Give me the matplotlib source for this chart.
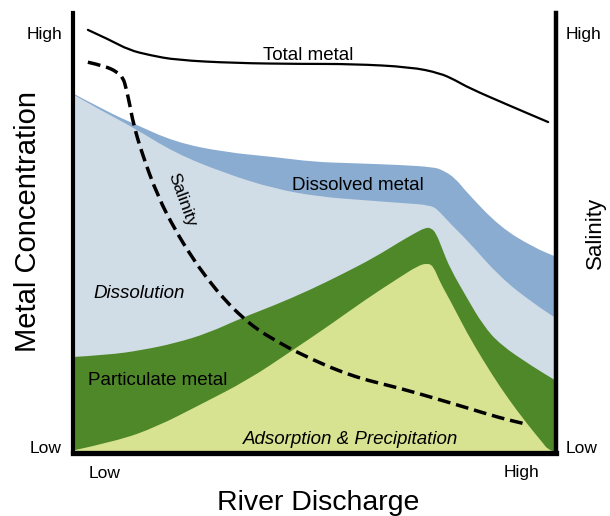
import matplotlib
matplotlib.use("Agg")
import matplotlib.pyplot as plt
from matplotlib.path import Path
from matplotlib.patches import PathPatch

plt.rcParams['font.family'] = ['Liberation Sans', 'DejaVu Sans']

# ---- data (normalised 0-100 units: x = river discharge, y = concentration) ----
total_x = [2.7, 7.3, 11.3, 15.7, 21.2, 33.5, 47.2, 58.1, 70.4, 76.5, 79.7, 82.6, 90.8, 99.2]
total_y = [96.6, 94.3, 92.0, 90.8, 89.7, 89.0, 88.8, 88.8, 88.1, 86.7, 85.1, 83.3, 79.4, 75.5]

sal_x = [2.7, 6.3, 8.8, 10.1, 10.7, 11.5, 12.2, 14.0, 17.4, 21.0, 24.5, 27.9, 31.4, 35.0, 38.4,
         41.9, 47.2, 57.7, 68.1, 75.1, 82.2, 89.1, 94.5]
sal_y = [89.2, 88.3, 87.0, 85.6, 83.3, 79.4, 75.3, 68.4, 58.4, 50.8, 44.6, 39.4, 34.8, 30.9, 27.9,
         25.6, 22.4, 17.4, 14.6, 12.4, 10.1, 7.8, 6.4]

dis_top_x = [0.0, 6.9, 12.0, 21.0, 31.4, 41.9, 49.9, 57.7, 68.1, 75.1, 77.1, 79.7, 82.2, 89.1, 96.0, 101.0]
dis_top_y = [82.4, 77.8, 75.3, 70.9, 68.6, 67.5, 66.4, 66.1, 65.7, 65.2, 64.5, 62.7, 59.3, 51.5, 46.9, 44.6]

dis_bot_x = [0.0, 5.2, 12.0, 21.0, 31.4, 41.9, 51.4, 59.7, 68.1, 74.8, 76.5, 79.0, 82.2, 89.1, 96.0, 101.0]
dis_bot_y = [82.2, 78.3, 74.4, 68.4, 63.8, 60.2, 58.4, 57.7, 57.0, 56.5, 54.9, 51.9, 48.5, 40.0, 34.1, 30.5]

part_top_x = [0.0, 6.9, 14.0, 21.0, 27.9, 35.0, 41.9, 49.3, 56.6, 62.9, 68.1, 71.3, 73.4, 74.6,
              75.7, 77.1, 78.6, 82.2, 85.5, 89.1, 96.0, 101.0]
part_top_y = [21.7, 22.2, 23.3, 24.9, 27.2, 30.7, 33.6, 37.1, 41.0, 44.6, 48.1, 50.1, 51.3, 51.3,
              50.1, 46.2, 42.1, 35.2, 29.1, 24.6, 19.5, 16.2]

ads_top_x = [0.0, 8.8, 17.0, 26.2, 36.3, 45.1, 53.5, 60.8, 68.1, 71.9, 73.8, 75.1, 76.5, 78.6,
             82.2, 85.5, 89.1, 92.7, 96.0, 97.9, 99.2, 101.0]
ads_top_y = [0.2, 2.5, 5.7, 10.8, 16.5, 22.9, 29.1, 34.8, 40.0, 42.6, 43.2, 42.6, 38.9, 34.8,
             27.2, 21.1, 14.9, 9.4, 4.8, 2.3, 0.5, 0.0]

y_ticks = [95.9, 1.1]
y_ticklabels = ['High', 'Low']
x_ticks = [6.1, 93.7]
x_ticklabels = ['Low', 'High']

# ---- colours ----
c_light_blue = '#d0dce6'
c_dark_blue = '#8aacd0'
c_dark_green = '#4f8829'
c_yellow = '#d8e391'


def smooth_path(xs, ys, base=None):
    """Quadratic-Bezier path through the read points (points act as control points)."""
    pts = list(zip(xs, ys))
    verts = [pts[0]]
    codes = [Path.MOVETO]
    for i in range(1, len(pts) - 1):
        mid = ((pts[i][0] + pts[i + 1][0]) / 2, (pts[i][1] + pts[i + 1][1]) / 2)
        verts += [pts[i], mid]
        codes += [Path.CURVE3, Path.CURVE3]
    verts.append(pts[-1])
    codes.append(Path.LINETO)
    if base is not None:
        verts += [(xs[-1], base), (xs[0], base), pts[0]]
        codes += [Path.LINETO, Path.LINETO, Path.CLOSEPOLY]
    return Path(verts, codes)


fig = plt.figure(figsize=(6.10, 5.16), dpi=100)
W, H = 610, 516
ax = fig.add_axes([73 / W, (H - 453) / H, (556 - 73) / W, (453 - 13) / H])
ax.set_xlim(-0.42, 100.84)
ax.set_ylim(-0.23, 100.46)

for xs, ys, col, z in [(dis_top_x, dis_top_y, c_dark_blue, 1),
                       (dis_bot_x, dis_bot_y, c_light_blue, 2),
                       (part_top_x, part_top_y, c_dark_green, 3),
                       (ads_top_x, ads_top_y, c_yellow, 4)]:
    xs2 = [-1.0] + xs[1:]
    ax.add_patch(PathPatch(smooth_path(xs2, ys, base=-1.0), facecolor=col, edgecolor='none', zorder=z))

ax.add_patch(PathPatch(smooth_path(total_x, total_y), facecolor='none', edgecolor='black',
                       lw=1.6, zorder=6, capstyle='round'))
ax.add_patch(PathPatch(smooth_path(sal_x, sal_y), facecolor='none', edgecolor='black',
                       lw=2.5, zorder=6, linestyle=(0, (3.7, 1.7)), capstyle='butt'))

txt_kw = dict(fontsize=13.5, ha='center', va='center', zorder=7)
ax.text(48.8, 90.8, 'Total metal', **txt_kw)
ax.text(59.3, 60.9, 'Dissolved metal', **txt_kw)
ax.text(13.4, 36.2, 'Dissolution', style='italic', **txt_kw)
ax.text(17.4, 16.3, 'Particulate metal', **txt_kw)
ax.text(57.7, 2.8, 'Adsorption & Precipitation', style='italic', **txt_kw)
ax.text(22.4, 57.7, 'Salinity', fontsize=12.5, ha='center', va='center', rotation=-70, zorder=7)

ax.spines['top'].set_visible(False)
ax.spines['left'].set_linewidth(3.0)
ax.spines['right'].set_linewidth(3.2)
ax.spines['bottom'].set_linewidth(3.8)
for s in ['left', 'right', 'bottom']:
    ax.spines[s].set_zorder(10)

ax.set_yticks(y_ticks)
ax.set_yticklabels(y_ticklabels)
ax.set_xticks(x_ticks)
ax.set_xticklabels(x_ticklabels)
ax.tick_params(axis='y', length=0, pad=8, labelsize=12.5)
ax.tick_params(axis='x', length=0, pad=9, labelsize=12.5)

ax2 = ax.twinx()
ax2.set_ylim(ax.get_ylim())
ax2.set_yticks(y_ticks)
ax2.set_yticklabels(y_ticklabels)
ax2.tick_params(axis='y', length=0, pad=7, labelsize=12.5)
for s in ['top', 'left', 'bottom', 'right']:
    ax2.spines[s].set_visible(False)

fig.text(318 / W, 1 - 503 / H, 'River Discharge', fontsize=20.5, ha='center', va='center')
fig.text(28 / W, 1 - 222 / H, 'Metal Concentration', fontsize=21, ha='center', va='center', rotation=90)
fig.text(595 / W, 1 - 233 / H, 'Salinity', fontsize=16, ha='center', va='center', rotation=90)

fig.savefig('out.png', dpi=100)
